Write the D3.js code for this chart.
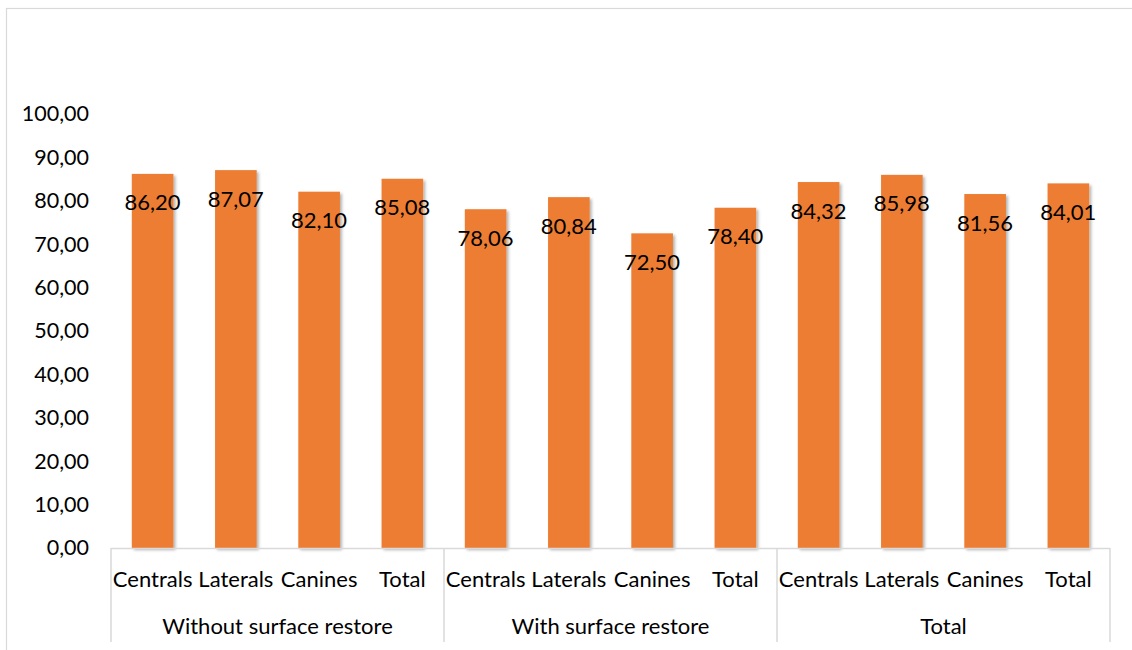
<!DOCTYPE html>
<html>
<head>
<meta charset="utf-8">
<script src="https://cdn.jsdelivr.net/npm/d3@7"></script>
<style>
  html, body { margin: 0; padding: 0; background: #fff; }
  svg { display: block; }
  text { font-family: Lato, "Noto Sans", sans-serif; fill: #000; }
</style>
</head>
<body>
<svg id="chart" width="1132" height="650"></svg>
<script>
// Groups along the outer axis level and teeth along the inner level
const groups = ["Without surface restore", "With surface restore", "Total"];
const teeth = ["Centrals", "Laterals", "Canines", "Total"];

// Percentage per tooth type, one array per group
const withoutRestore = [86.20, 87.07, 82.10, 85.08];
const withRestore = [78.06, 80.84, 72.50, 78.40];
const totalValues = [84.32, 85.98, 81.56, 84.01];

const yTicks = [0, 10, 20, 30, 40, 50, 60, 70, 80, 90, 100];

const seriesByGroup = [withoutRestore, withRestore, totalValues];
const rows = [];
groups.forEach((g, gi) => {
  teeth.forEach((t, ti) => rows.push({ group: g, tooth: t, value: seriesByGroup[gi][ti] }));
});

const locale = d3.formatLocale({ decimal: ",", thousands: ".", grouping: [3], currency: ["", ""] });
const fmt = locale.format(".2f");

const svg = d3.select("#chart");

// Outer frame of the chart area
svg.append("rect")
  .attr("x", 6.5).attr("y", 8.5)
  .attr("width", 1150).attr("height", 700)
  .attr("fill", "none").attr("stroke", "#d9d9d9").attr("stroke-width", 1.2);

const defs = svg.append("defs");
const shadow = defs.append("filter").attr("id", "barShadow")
  .attr("x", "-20%").attr("y", "-10%").attr("width", "150%").attr("height", "130%");
shadow.append("feDropShadow")
  .attr("dx", 2).attr("dy", 2).attr("stdDeviation", 1.8)
  .attr("flood-color", "#000").attr("flood-opacity", 0.3);

const left = 111, right = 1110, baseY = 548, topY = 114;

const y = d3.scaleLinear().domain([0, 100]).range([baseY, topY]);
const xGroup = d3.scaleBand().domain(groups).range([left, right]).padding(0);
const xTooth = d3.scaleBand().domain(teeth).range([0, xGroup.bandwidth()])
  .paddingInner(0.5).paddingOuter(0.25);

// Value axis labels (no axis line, no gridlines)
const yAxis = svg.append("g")
  .attr("transform", `translate(${left - 22},0)`)
  .call(d3.axisLeft(y).tickValues(yTicks).tickFormat(fmt).tickSize(0).tickPadding(0));
yAxis.select(".domain").remove();
yAxis.selectAll("text")
  .style("font-family", "Lato, 'Noto Sans', sans-serif")
  .style("font-size", "21.5px")
  .attr("fill", "#000");

// Bars
svg.append("g").selectAll("rect")
  .data(rows)
  .join("rect")
  .attr("x", d => xGroup(d.group) + xTooth(d.tooth))
  .attr("y", d => y(d.value))
  .attr("width", xTooth.bandwidth())
  .attr("height", d => y(0) - y(d.value))
  .attr("fill", "#ED7D31")
  .attr("filter", "url(#barShadow)");

// Value labels placed inside the bar end
svg.append("g").selectAll("text")
  .data(rows)
  .join("text")
  .attr("x", d => xGroup(d.group) + xTooth(d.tooth) + xTooth.bandwidth() / 2)
  .attr("y", d => y(d.value) + 28)
  .attr("text-anchor", "middle")
  .attr("dominant-baseline", "central")
  .style("font-size", "22px")
  .text(d => fmt(d.value));

// Category axis: baseline plus separators between groups
const axisColor = "#d9d9d9";
svg.append("line")
  .attr("x1", left).attr("x2", right)
  .attr("y1", baseY + 0.5).attr("y2", baseY + 0.5)
  .attr("stroke", axisColor).attr("stroke-width", 1.5);

const separators = groups.map(g => xGroup(g)).concat([right]);
svg.append("g").selectAll("line")
  .data(separators)
  .join("line")
  .attr("x1", d => d).attr("x2", d => d)
  .attr("y1", baseY).attr("y2", 642)
  .attr("stroke", axisColor).attr("stroke-width", 1.5);

// Inner level labels
svg.append("g").selectAll("text")
  .data(rows)
  .join("text")
  .attr("x", d => xGroup(d.group) + xTooth(d.tooth) + xTooth.bandwidth() / 2)
  .attr("y", 587)
  .attr("text-anchor", "middle")
  .style("font-size", "22px")
  .text(d => d.tooth);

// Outer level labels
svg.append("g").selectAll("text")
  .data(groups)
  .join("text")
  .attr("x", d => xGroup(d) + xGroup.bandwidth() / 2)
  .attr("y", 634)
  .attr("text-anchor", "middle")
  .style("font-size", "22px")
  .text(d => d);
</script>
</body>
</html>
